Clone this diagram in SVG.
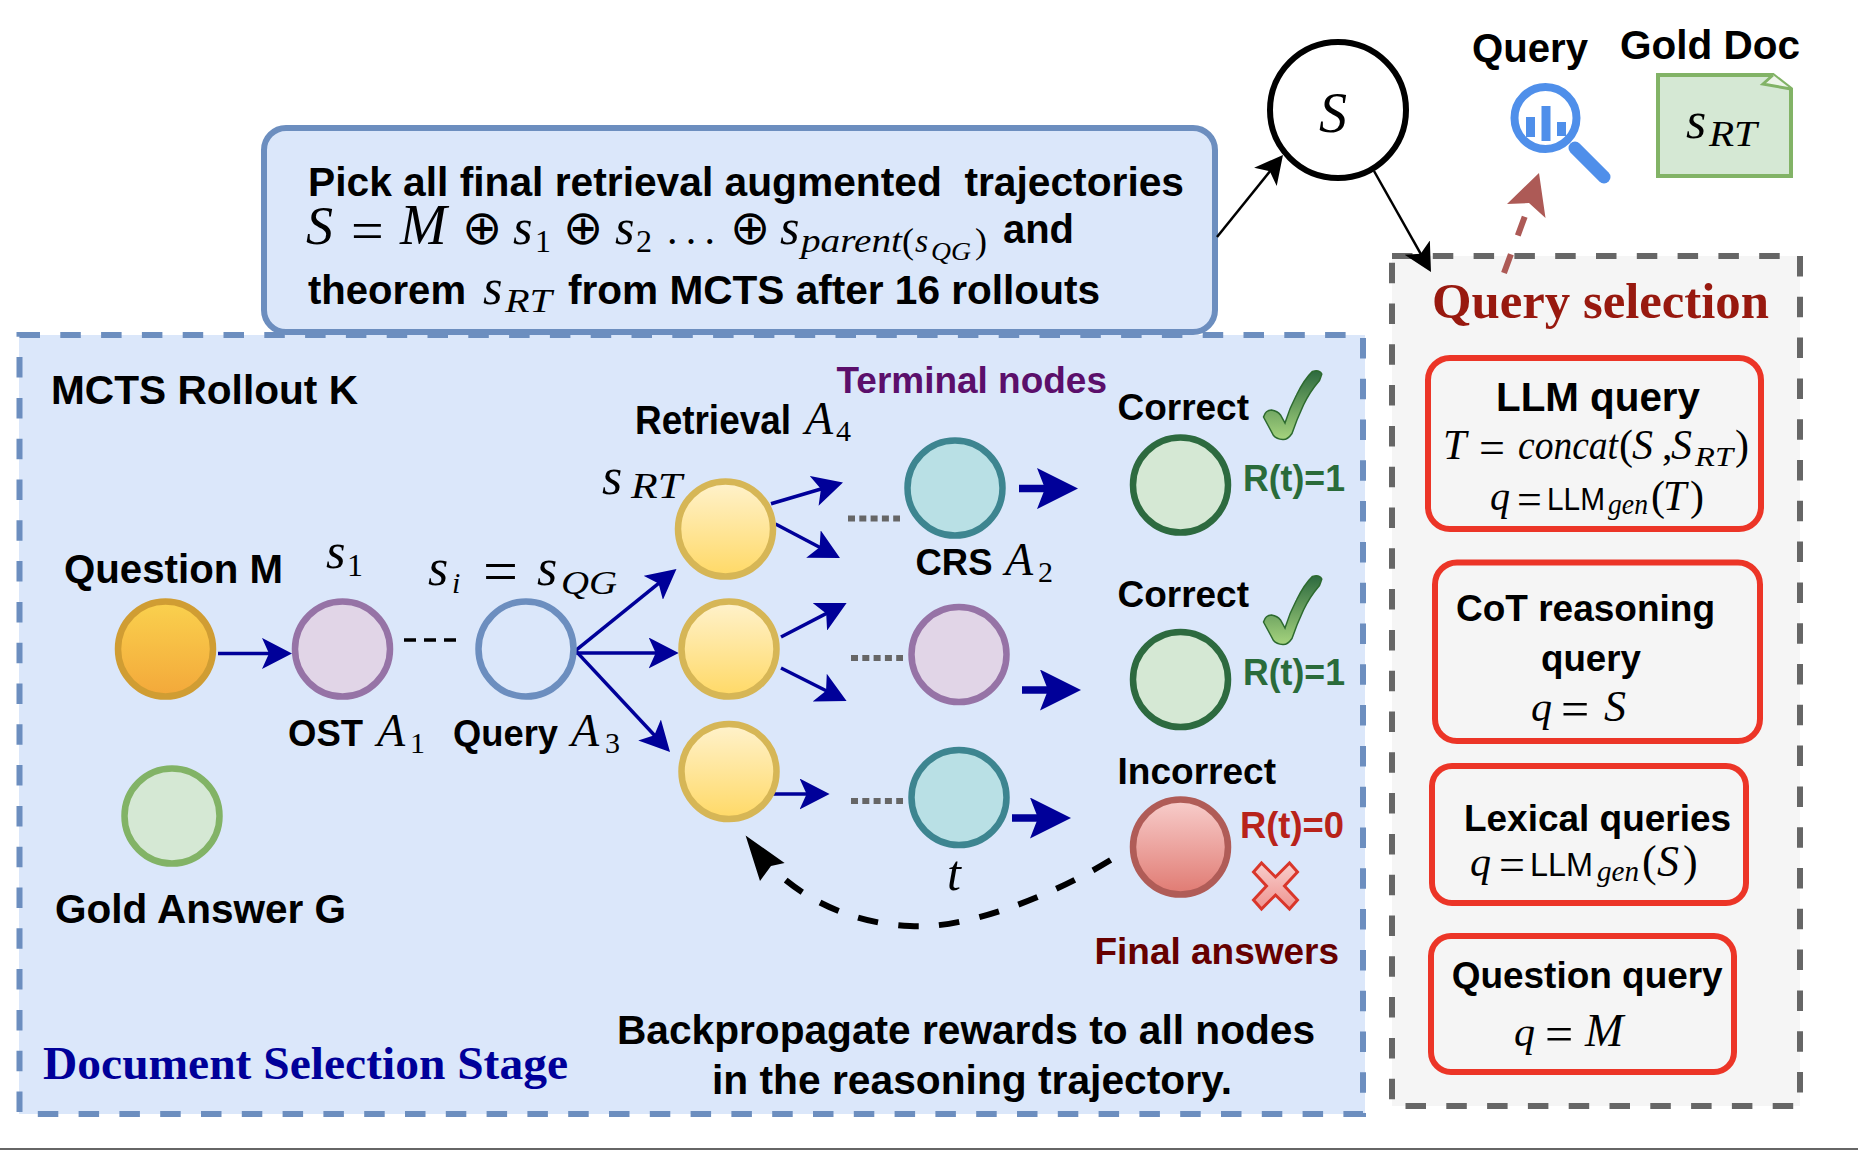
<svg xmlns="http://www.w3.org/2000/svg" xmlns:xlink="http://www.w3.org/1999/xlink" width="1858" height="1150" viewBox="0 0 1858 1150">
<style>
text{fill:#000}
.b{font-family:"Liberation Sans",Arial,sans-serif;font-weight:700}
.s40{font-size:40px}.s37{font-size:37px}
.m{font-family:"Liberation Serif","Times New Roman",serif;font-style:italic}
.r{font-family:"Liberation Serif","Times New Roman",serif}
.sans{font-family:"Liberation Sans",Arial,sans-serif}
.tb{font-family:"Liberation Serif","Times New Roman",serif;font-weight:700}
.red{fill:#f5f5f5;stroke:#ec3527;stroke-width:6}
.n{stroke-width:6.5}
.yl{fill:url(#gy);stroke:#d6b656}
.teal{fill:#b9e0e5;stroke:#3d8590}
.pur{fill:#e1d5e7;stroke:#9673a6}
.grn{fill:#d5e8d4;stroke:#2d6a3f}
.bl{stroke:#000099;stroke-width:3.5;fill:none}
.big{stroke:#000099;stroke-width:7.5;fill:none}
.bk{stroke:#000;stroke-width:2.5;fill:none}
.dots{stroke:#666;stroke-width:6;stroke-dasharray:7 4.3;fill:none}
.gt{fill:#2a6b3a}
</style>
<defs>
<linearGradient id="gy" x1="0" y1="0" x2="0" y2="1"><stop offset="0" stop-color="#fff2cc"/><stop offset="1" stop-color="#ffd966"/></linearGradient>
<linearGradient id="go" x1="0" y1="0" x2="0" y2="1"><stop offset="0" stop-color="#fad14e"/><stop offset="1" stop-color="#f3a83a"/></linearGradient>
<linearGradient id="gr" x1="0" y1="0" x2="0" y2="1"><stop offset="0" stop-color="#f8cecc"/><stop offset="1" stop-color="#e07a72"/></linearGradient>
<linearGradient id="gc" x1="0" y1="0" x2="0" y2="1"><stop offset="0" stop-color="#2d6a3f"/><stop offset="1" stop-color="#a6d47e"/></linearGradient>
<linearGradient id="gx" x1="0" y1="0" x2="0" y2="1"><stop offset="0" stop-color="#f8cecc"/><stop offset="1" stop-color="#ee9490"/></linearGradient>
<marker id="ab" markerUnits="userSpaceOnUse" markerWidth="30" markerHeight="31" viewBox="0 0 30 31" refX="15" refY="15.5" orient="auto"><path d="M0,0L30,15.5L0,31L7,15.5Z" fill="#000099"/></marker>
<marker id="abig" markerUnits="userSpaceOnUse" markerWidth="41" markerHeight="41" viewBox="0 0 41 41" refX="20" refY="20.5" orient="auto"><path d="M0,0L41,20.5L0,41L8,20.5Z" fill="#000099"/></marker>
<marker id="ak" markerUnits="userSpaceOnUse" markerWidth="28" markerHeight="29" viewBox="0 0 28 29" refX="14" refY="14.5" orient="auto"><path d="M0,0L28,14.5L0,29L7,14.5Z" fill="#000"/></marker>
<path id="chk" d="M0,47Q2,40 8,40Q14,41 17,45L21.5,53Q26,38 33,25Q41,9 49,1.4Q56,-.5 58.3,4Q57,8 56,10.4Q46,22 40,35Q33,50 28.5,63.5Q24,70 19.3,69.6Q13,69 10,65.5Z" fill="url(#gc)" stroke="#2d6a2f" stroke-width="1.5"/>
</defs>
<rect width="1858" height="1150" fill="#fff"/>
<line x1="0" y1="1149" x2="1858" y2="1149" stroke="#333" stroke-width="1.5"/>

<g id="document-selection-stage">
<rect x="19" y="335" width="1346" height="779" fill="#dbe7fa"/>
<path d="M19.500,335H1363V1114H19.500Z" fill="none" stroke="#6c8ebf" stroke-width="6" stroke-dasharray="20.500 20.300"/>
<text class="tb" x="43" y="1079" font-size="46" style="fill:#000099" textLength="525" lengthAdjust="spacingAndGlyphs">Document Selection Stage</text>
<text class="b s40" x="51" y="404" textLength="307" lengthAdjust="spacingAndGlyphs">MCTS Rollout K</text>
<text class="b s40" x="617" y="1044" textLength="698" lengthAdjust="spacingAndGlyphs">Backpropagate rewards to all nodes</text>
<text class="b s40" x="712" y="1094" textLength="520" lengthAdjust="spacingAndGlyphs">in the reasoning trajectory.</text>
</g>

<g id="summary-box">
<rect x="264" y="128" width="951" height="204" rx="22" fill="#dbe7fa" stroke="#6c8ebf" stroke-width="6"/>
<text class="b s40" x="308" y="196" textLength="876" lengthAdjust="spacingAndGlyphs" xml:space="preserve">Pick all final retrieval augmented  trajectories</text>
<text class="m" font-size="54" x="306" y="244">S</text>
<text class="r" font-size="58" x="351" y="250">=</text>
<text class="m" font-size="56" x="400" y="244">M</text>
<text class="r" font-size="48" x="462" y="244">⊕</text>
<text class="m" font-size="50" x="513" y="244">s</text>
<text class="r" font-size="32" x="535" y="252">1</text>
<text class="r" font-size="48" x="563" y="244">⊕</text>
<text class="m" font-size="50" x="615" y="244">s</text>
<text class="r" font-size="32" x="636" y="252">2</text>
<text class="r" font-size="42" x="667" y="244" textLength="48">...</text>
<text class="r" font-size="48" x="730" y="244">⊕</text>
<text class="m" font-size="50" x="780" y="244">s</text>
<text class="m" font-size="34" x="801" y="252" textLength="101" lengthAdjust="spacingAndGlyphs">parent</text>
<text class="r" font-size="36" x="902" y="253">(</text>
<text class="m" font-size="34" x="915" y="252">s</text>
<text class="m" font-size="26" x="931" y="260" textLength="40" lengthAdjust="spacingAndGlyphs">QG</text>
<text class="r" font-size="36" x="975" y="253">)</text>
<text class="b s40" x="1003" y="243" textLength="71" lengthAdjust="spacingAndGlyphs">and</text>
<text class="b s40" x="308" y="304" textLength="158" lengthAdjust="spacingAndGlyphs">theorem</text>
<text class="m" font-size="50" x="483" y="304">s</text>
<text class="m" font-size="34" x="505" y="312" textLength="47" lengthAdjust="spacingAndGlyphs">RT</text>
<text class="b s40" x="568" y="304" textLength="532" lengthAdjust="spacingAndGlyphs">from MCTS after 16 rollouts</text>
</g>

<g id="query-selection">
<rect x="1392" y="256" width="408" height="850" fill="#f5f5f5"/>
<path d="M1392,256H1800V1106H1392Z" fill="none" stroke="#666" stroke-width="6" stroke-dasharray="20.500 20.300"/>
<text class="tb" x="1432" y="318" font-size="50" style="fill:#98190f" textLength="337" lengthAdjust="spacingAndGlyphs">Query selection</text>
</g>

<g id="connectors">
<line class="bl" x1="218" y1="653.400" x2="277" y2="653.400" marker-end="url(#ab)"/>
<path d="M404,640H456" stroke="#000" stroke-width="3.500" stroke-dasharray="12 8" fill="none"/>
<line class="bl" x1="575.500" y1="650.600" x2="664.800" y2="578.400" marker-end="url(#ab)"/>
<line class="bl" x1="575.500" y1="653" x2="663.700" y2="653" marker-end="url(#ab)"/>
<line class="bl" x1="575.500" y1="650.600" x2="659.800" y2="741" marker-end="url(#ab)"/>
<line class="bl" x1="771" y1="503.700" x2="828.600" y2="486.700" marker-end="url(#ab)"/>
<line class="bl" x1="775.500" y1="524" x2="826.700" y2="551" marker-end="url(#ab)"/>
<line class="bl" x1="781" y1="637" x2="833.300" y2="609.900" marker-end="url(#ab)"/>
<line class="bl" x1="781" y1="668" x2="833.200" y2="694.300" marker-end="url(#ab)"/>
<line class="bl" x1="772" y1="794" x2="814.600" y2="794" marker-end="url(#ab)"/>
<line class="dots" x1="848" y1="518.500" x2="900" y2="518.500"/>
<line class="dots" x1="851" y1="658" x2="903" y2="658"/>
<line class="dots" x1="851" y1="801" x2="903" y2="801"/>
<line class="big" x1="1019" y1="488.600" x2="1057" y2="488.600" marker-end="url(#abig)"/>
<line class="big" x1="1022" y1="690" x2="1060" y2="690" marker-end="url(#abig)"/>
<line class="big" x1="1012" y1="818" x2="1050" y2="818" marker-end="url(#abig)"/>
<path d="M1110.600,860C1045,900 960,930 910,926C860,924 810,905 772,868" fill="none" stroke="#000" stroke-width="6" stroke-dasharray="20.500 20.500"/>
<path d="M745.600,835.500L784.600,863L771,866L760,881Z" fill="#000"/>
<line class="bk" x1="1217" y1="237" x2="1274.200" y2="165.900" marker-end="url(#ak)"/>
<line class="bk" x1="1374" y1="171" x2="1424.100" y2="259.800" marker-end="url(#ak)"/>
<path d="M1504,273L1529,205" fill="none" stroke="#ad5a56" stroke-width="6" stroke-dasharray="20 20"/>
<path d="M1539,173L1545.500,218L1529,203L1507,204Z" fill="#ad5a56"/>
</g>

<g id="node-s"><circle cx="1338" cy="110" r="68" fill="#fff" stroke="#000" stroke-width="6"/><text class="m" font-size="56" x="1319" y="132">S</text></g>
<g id="query-icon">
<text class="b s40" x="1472" y="62" textLength="116" lengthAdjust="spacingAndGlyphs">Query</text>
<circle cx="1545.500" cy="118" r="31" fill="#fff" stroke="#4f8fea" stroke-width="8"/>
<path d="M1526,117h9v20h-9zM1541.500,106h9v35h-9zM1557,122h9v14h-9z" fill="#4f8fea"/>
<line x1="1575" y1="148" x2="1604" y2="177" stroke="#4f8fea" stroke-width="13" stroke-linecap="round"/>
</g>
<g id="gold-doc">
<text class="b s40" x="1620" y="59" textLength="180" lengthAdjust="spacingAndGlyphs">Gold Doc</text>
<path d="M1658,75H1773L1791,89V176H1658Z" fill="#d5e8d4" stroke="#82b366" stroke-width="4"/>
<path d="M1773,75L1763,84L1791,89" fill="#eef5ea" stroke="#82b366" stroke-width="3"/>
<text class="m" font-size="52" x="1686" y="138">s</text>
<text class="m" font-size="35" x="1709" y="146" textLength="48" lengthAdjust="spacingAndGlyphs">RT</text>
</g>

<g id="node-question"><circle class="n" cx="165.500" cy="649" r="47.500" fill="url(#go)" stroke="#d09d33"/>
<text class="b s40" x="64" y="583" textLength="219" lengthAdjust="spacingAndGlyphs">Question M</text></g>
<g id="node-s1"><circle class="n pur" cx="342.500" cy="649" r="47.500"/>
<text class="m" font-size="50" x="326" y="568">s</text><text class="r" font-size="32" x="347" y="576">1</text>
<text class="b s37" x="288" y="746" textLength="75" lengthAdjust="spacingAndGlyphs">OST</text><text class="m" font-size="46" x="377" y="746">A</text><text class="r" font-size="30" x="410" y="753">1</text></g>
<g id="node-query"><circle class="n" cx="526" cy="649" r="47.500" fill="#dbe7fa" stroke="#6c8ebf"/>
<text class="m" font-size="52" x="428" y="585">s</text><text class="m" font-size="30" x="452" y="593">i</text><text class="r" font-size="62" x="483" y="592">=</text><text class="m" font-size="52" x="537" y="585">s</text><text class="m" font-size="34" x="561" y="594" textLength="56" lengthAdjust="spacingAndGlyphs">QG</text>
<text class="b s37" x="453" y="746" textLength="105" lengthAdjust="spacingAndGlyphs">Query</text><text class="m" font-size="46" x="571" y="746">A</text><text class="r" font-size="30" x="605" y="753">3</text></g>
<g id="node-gold-answer"><circle class="n" cx="172" cy="816" r="47.500" fill="#d5e8d4" stroke="#82b366"/>
<text class="b s40" x="55" y="923" textLength="291" lengthAdjust="spacingAndGlyphs">Gold Answer G</text></g>

<g id="node-retrieval-1"><circle class="n yl" cx="725.500" cy="529" r="47.500"/>
<text class="m" font-size="52" x="602" y="494">s</text><text class="m" font-size="35" x="631" y="498" textLength="51" lengthAdjust="spacingAndGlyphs">RT</text>
<text class="b s40" x="635" y="434" textLength="156" lengthAdjust="spacingAndGlyphs">Retrieval</text><text class="m" font-size="46" x="805" y="434">A</text><text class="r" font-size="30" x="836" y="441">4</text></g>
<g id="node-retrieval-2"><circle class="n yl" cx="729" cy="649" r="47.500"/></g>
<g id="node-retrieval-3"><circle class="n yl" cx="729" cy="771.500" r="47.500"/></g>
<g id="node-crs-1"><circle class="n teal" cx="955" cy="488" r="47.500"/>
<text class="b s37" x="915.500" y="575" textLength="77" lengthAdjust="spacingAndGlyphs">CRS</text><text class="m" font-size="46" x="1005" y="575">A</text><text class="r" font-size="30" x="1038" y="582">2</text></g>
<g id="node-ost-2"><circle class="n pur" cx="959" cy="654.500" r="47.500"/></g>
<g id="node-crs-t"><circle class="n teal" cx="959" cy="797.500" r="47.500"/><text class="m" font-size="50" x="947" y="890">t</text></g>
<text class="b s37" x="836.500" y="393" style="fill:#5b0f6b" textLength="270.500" lengthAdjust="spacingAndGlyphs">Terminal nodes</text>

<g id="final-correct-1"><circle class="n grn" cx="1180.500" cy="485" r="47.500"/>
<text class="b s37" x="1117.500" y="420" textLength="131.500" lengthAdjust="spacingAndGlyphs">Correct</text>
<use xlink:href="#chk" href="#chk" x="1263.500" y="370"/>
<text class="b gt" font-size="36" x="1243" y="491" textLength="102" lengthAdjust="spacingAndGlyphs">R(t)=1</text></g>
<g id="final-correct-2"><circle class="n grn" cx="1180.500" cy="679.500" r="47.500"/>
<text class="b s37" x="1117.500" y="607" textLength="131.500" lengthAdjust="spacingAndGlyphs">Correct</text>
<use xlink:href="#chk" href="#chk" x="1263.500" y="575"/>
<text class="b gt" font-size="36" x="1243" y="685" textLength="102" lengthAdjust="spacingAndGlyphs">R(t)=1</text></g>
<g id="final-incorrect"><circle class="n" cx="1180.500" cy="847" r="47.500" fill="url(#gr)" stroke="#b05c57"/>
<text class="b s37" x="1117.500" y="784" textLength="158.500" lengthAdjust="spacingAndGlyphs">Incorrect</text>
<text class="b" font-size="36" x="1240" y="838" style="fill:#b8231a" textLength="104" lengthAdjust="spacingAndGlyphs">R(t)=0</text>
<path transform="translate(1275.500,886)" d="M-22,-14L-14,-23L0,-9L14,-23L22,-14L9,0L22,14L14,23L0,9L-14,23L-22,14L-9,0Z" fill="url(#gx)" stroke="#d9362a" stroke-width="3"/>
<text class="b s37" x="1094.500" y="964" style="fill:#660000" textLength="244.500" lengthAdjust="spacingAndGlyphs">Final answers</text></g>

<g id="llm-query">
<rect class="red" x="1428" y="358" width="333" height="171" rx="22"/>
<text class="b s40" x="1496" y="411" textLength="204" lengthAdjust="spacingAndGlyphs">LLM query</text>
<text class="m" font-size="42" x="1443" y="459">T</text><text class="r" font-size="46" x="1479" y="463">=</text>
<text class="m" font-size="42" x="1518" y="459" textLength="100" lengthAdjust="spacingAndGlyphs">concat</text>
<text class="r" font-size="42" x="1619" y="459">(</text><text class="m" font-size="42" x="1632" y="459">S</text><text class="r" font-size="42" x="1662" y="459">,</text><text class="m" font-size="42" x="1671" y="459">S</text>
<text class="m" font-size="28" x="1695" y="466" textLength="38" lengthAdjust="spacingAndGlyphs">RT</text><text class="r" font-size="42" x="1735" y="459">)</text>
<text class="m" font-size="40" x="1490" y="510">q</text><text class="r" font-size="44" x="1517" y="514">=</text>
<text class="sans" font-size="32" x="1547" y="510" textLength="58" lengthAdjust="spacingAndGlyphs">LLM</text>
<text class="m" font-size="29" x="1608" y="514" textLength="40" lengthAdjust="spacingAndGlyphs">gen</text>
<text class="r" font-size="42" x="1651" y="510">(</text><text class="m" font-size="42" x="1663" y="510">T</text><text class="r" font-size="42" x="1690" y="510">)</text>
</g>
<g id="cot-query">
<rect class="red" x="1435" y="562.500" width="325" height="178.500" rx="22"/>
<text class="b s37" x="1456" y="621" textLength="259" lengthAdjust="spacingAndGlyphs">CoT reasoning</text>
<text class="b s37" x="1541" y="671" textLength="100" lengthAdjust="spacingAndGlyphs">query</text>
<text class="m" font-size="42" x="1531" y="721">q</text><text class="r" font-size="50" x="1561" y="726">=</text><text class="m" font-size="44" x="1604" y="721">S</text>
</g>
<g id="lexical-query">
<rect class="red" x="1432" y="766" width="314" height="137" rx="20"/>
<text class="b s37" x="1464" y="831" textLength="267" lengthAdjust="spacingAndGlyphs">Lexical queries</text>
<text class="m" font-size="42" x="1470" y="876">q</text><text class="r" font-size="46" x="1499" y="880">=</text>
<text class="sans" font-size="33" x="1530" y="876" textLength="63" lengthAdjust="spacingAndGlyphs">LLM</text>
<text class="m" font-size="30" x="1597" y="881" textLength="42" lengthAdjust="spacingAndGlyphs">gen</text>
<text class="r" font-size="44" x="1642" y="876">(</text><text class="m" font-size="44" x="1657" y="876">S</text><text class="r" font-size="44" x="1683" y="876">)</text>
</g>
<g id="question-query">
<rect class="red" x="1431" y="936" width="303" height="136" rx="20"/>
<text class="b s37" x="1451.700" y="988" textLength="271" lengthAdjust="spacingAndGlyphs">Question query</text>
<text class="m" font-size="42" x="1514" y="1046">q</text><text class="r" font-size="50" x="1545" y="1051">=</text><text class="m" font-size="46" x="1585" y="1046">M</text>
</g>
</svg>
